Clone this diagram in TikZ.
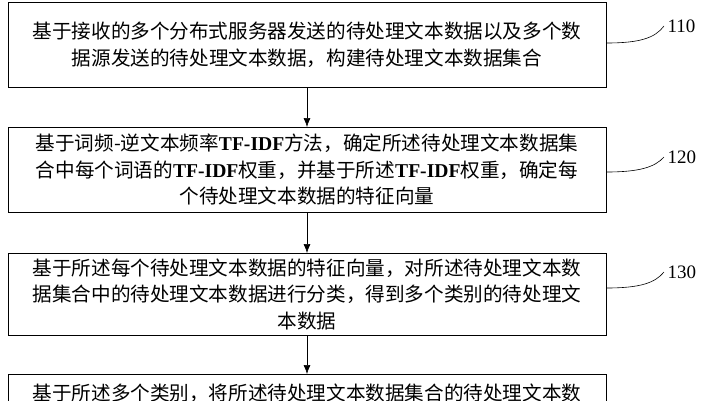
\documentclass[tikz,border=0pt]{standalone}
\usepackage{fontspec}
\setmainfont{Liberation Serif}
\newfontfamily\cjk{Noto Sans CJK SC}
\usetikzlibrary{arrows.meta}
\newcommand{\tfidf}{{\rmfamily\bfseries TF-IDF}}
\tikzset{stepbox/.style={draw, thick, minimum width=598pt, inner sep=0pt, align=center,
        font=\cjk\fontsize{19.6}{26.5}\selectfont, anchor=north},%
    flow/.style={-{Latex[length=9pt,width=7pt]}, semithick},%
    tag/.style={font=\fontsize{19}{20}\selectfont, anchor=west},%
    lead/.style={semithick}%
}
\begin{document}
\begin{tikzpicture}[x=1pt,y=-1pt]
    \useasboundingbox (0,0) rectangle (705,400);
    \clip (0,0) rectangle (705,400);
    \begin{scope} %draw boxes
        \node[stepbox, minimum height=85pt] (s110) at (307,2)
            {基于接收的多个分布式服务器发送的待处理文本数据以及多个数\\据源发送的待处理文本数据，构建待处理文本数据集合};
        \node[stepbox, minimum height=85pt] (s120) at (307,127)
            {基于词频-逆文本频率\tfidf 方法，确定所述待处理文本数据集\\合中每个词语的\tfidf 权重，并基于所述\tfidf 权重，确定每\\个待处理文本数据的特征向量};
        \node[stepbox, minimum height=82pt] (s130) at (307,253)
            {基于所述每个待处理文本数据的特征向量，对所述待处理文本数\\据集合中的待处理文本数据进行分类，得到多个类别的待处理文\\本数据};
        \node[stepbox, minimum height=60pt, anchor=north] (s140) at (307,374)
            {\raisebox{0pt}[26pt][0pt]{基于所述多个类别，将所述待处理文本数据集合的待处理文本数}\\[22pt]};
    \end{scope}
    \begin{scope} %draw connections
        \draw[flow] (s110.south) -- (s120.north);
        \draw[flow] (s120.south) -- (s130.north);
        \draw[flow] (s130.south) -- (s140.north);
    \end{scope}
    \begin{scope} %add labels
        \node[tag] (t110) at (664,26) {110};
        \node[tag] (t120) at (664,157) {120};
        \node[tag] (t130) at (664,272) {130};
        \draw[lead] (s110.east |- 0,43) .. controls (640,43) and (655,38) .. (t110.west);
        \draw[lead] (s120.east |- 0,172) .. controls (640,172) and (655,167) .. (t120.west);
        \draw[lead] (s130.east |- 0,288) .. controls (640,288) and (655,283) .. (t130.west);
    \end{scope}
\end{tikzpicture}
\end{document}
